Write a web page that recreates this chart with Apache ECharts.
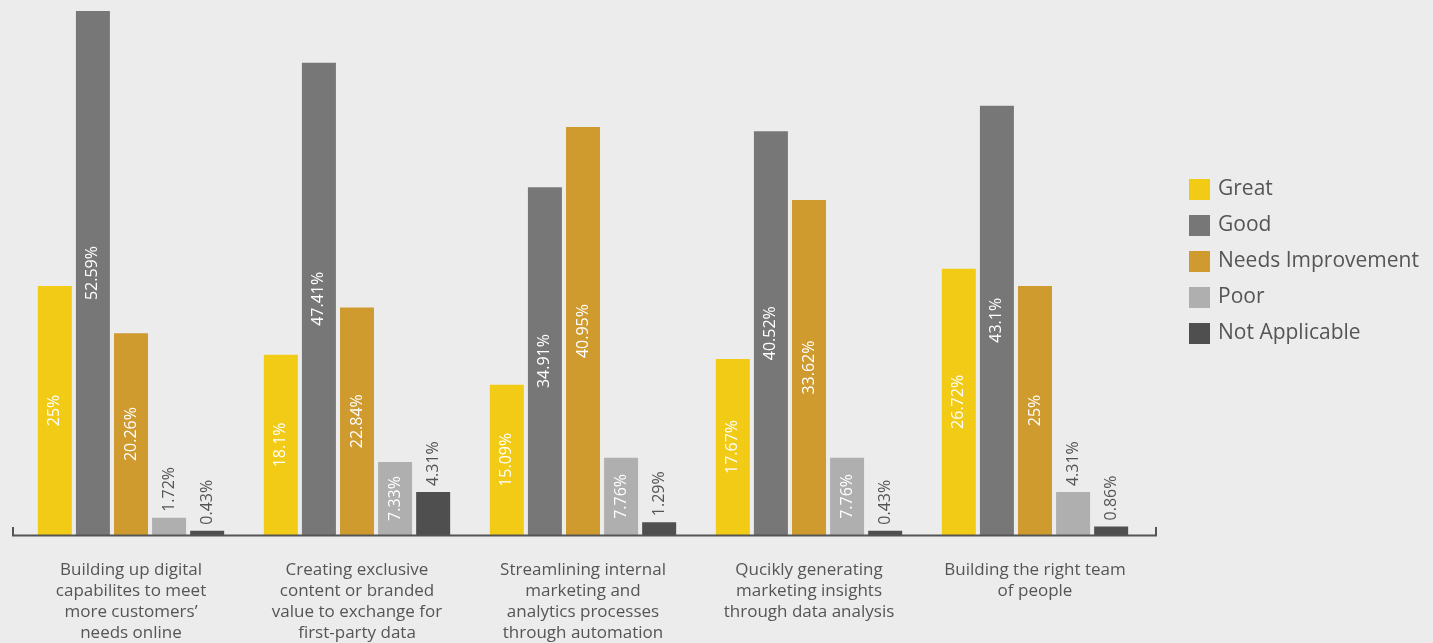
<!DOCTYPE html>
<html>
<head>
<meta charset="utf-8">
<style>
  html, body { margin: 0; padding: 0; background: #ececec; }
  #chart { width: 1433px; height: 643px; }
</style>
<script src="https://cdn.jsdelivr.net/npm/echarts@6/dist/echarts.min.js"></script>
</head>
<body>
<div id="chart"></div>
<script>
// Survey topics (x categories)
const categories = [
  "Building up digital\ncapabilites to meet\nmore customers\u2019\nneeds online",
  "Creating exclusive\ncontent or branded\nvalue to exchange for\nfirst-party data",
  "Streamlining internal\nmarketing and\nanalytics processes\nthrough automation",
  "Qucikly generating\nmarketing insights\nthrough data analysis",
  "Building the right team\nof people"
];

// Share of respondents per rating (%)
const great          = [25, 18.1, 15.09, 17.67, 26.72];
const good           = [52.59, 47.41, 34.91, 40.52, 43.1];
const needsImprove   = [20.26, 22.84, 40.95, 33.62, 25];
const poor           = [1.72, 7.33, 7.76, 7.76, 4.31];
const notApplicable  = [0.43, 4.31, 1.29, 0.43, 0.86];

const seriesNames  = ["Great", "Good", "Needs Improvement", "Poor", "Not Applicable"];
const seriesData   = [great, good, needsImprove, poor, notApplicable];
const seriesColors = ["#f2cb17", "#777777", "#cf9a2e", "#afafaf", "#4f4f4f"];

const FONT = "'Open Sans', Lato, sans-serif";
const SMALL = 5; // bars shorter than this get their label above the bar

const chart = echarts.init(document.getElementById('chart'));

const gridLeft = 18, gridRight = 1433 - 1148, gridBottom = 108, gridTop = 7;

function makeSeries(name, data, color) {
  return {
    name: name,
    type: 'bar',
    barWidth: 34,
    barGap: '12%',
    itemStyle: { color: color },
    data: data.map(v => {
      const small = v < SMALL;
      return {
        value: v,
        label: small ? {
          show: true, position: 'top', rotate: 90, distance: 6,
          align: 'left', verticalAlign: 'middle',
          color: '#555', fontSize: 16, fontFamily: FONT,
          formatter: p => p.value + '%'
        } : {
          show: true, position: 'inside', rotate: 90,
          align: 'center', verticalAlign: 'middle',
          color: '#ffffff', fontSize: 16, fontFamily: FONT,
          formatter: p => p.value + '%'
        }
      };
    })
  };
}

chart.setOption({
  backgroundColor: '#ececec',
  animation: false,
  textStyle: { fontFamily: FONT },
  legend: {
    orient: 'vertical',
    left: 1189,
    top: 179,
    padding: 0,
    itemWidth: 21,
    itemHeight: 21,
    itemGap: 15,
    icon: 'rect',
    textStyle: { color: '#555', fontSize: 21, fontFamily: FONT, padding: [0, 0, 0, 3] },
    data: seriesNames
  },
  grid: {
    left: gridLeft, right: gridRight, top: gridTop, bottom: gridBottom,
    containLabel: false, outerBoundsMode: 'none'
  },
  xAxis: {
    type: 'category',
    data: categories,
    axisLine: { show: false },
    axisTick: { show: false },
    axisLabel: {
      interval: 0,
      margin: 25,
      color: '#555',
      fontSize: 17,
      lineHeight: 21,
      fontFamily: FONT,
      align: 'center'
    }
  },
  yAxis: {
    type: 'value',
    min: 0,
    max: 53,
    show: false,
    splitLine: { show: false }
  },
  graphic: [{
    type: 'polyline',
    shape: { points: [[13, 527], [13, 535.5], [1156, 535.5], [1156, 527]] },
    style: { stroke: '#555', lineWidth: 2, fill: null },
    silent: true,
    z: 10
  }],
  series: seriesNames.map((n, i) => makeSeries(n, seriesData[i], seriesColors[i]))
});
</script>
</body>
</html>
